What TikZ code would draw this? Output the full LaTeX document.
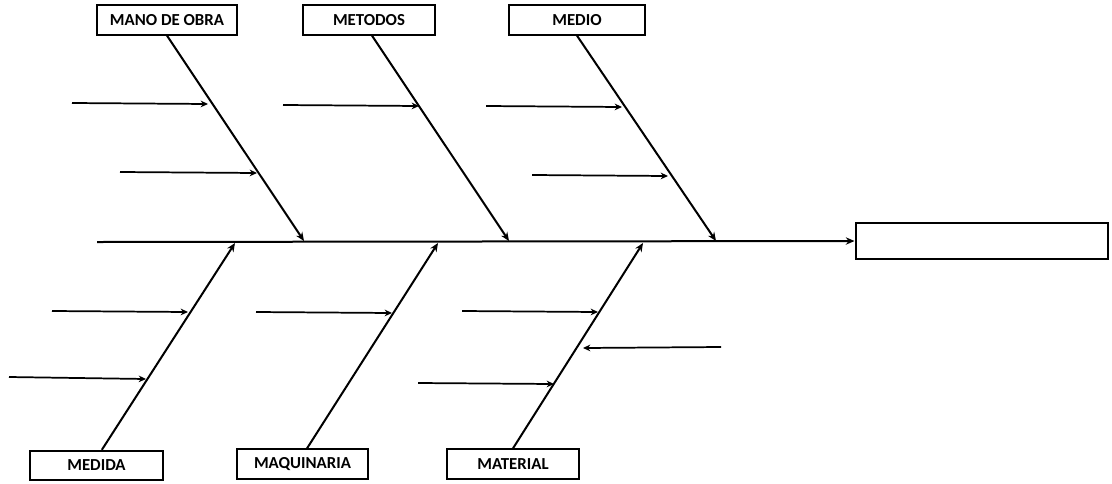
\documentclass[tikz,border=0pt]{standalone}
\usepackage{fontspec}
\setmainfont{Carlito}
\usetikzlibrary{arrows.meta}
\begin{document}
\begin{tikzpicture}[x=0.75pt,y=-0.75pt,
  cat/.style={draw,line width=1.5pt,minimum height=22pt,inner sep=0pt,font=\bfseries\fontsize{12.6}{14}\selectfont},
  bone/.style={line width=1.5pt,-{Stealth[length=6.5pt,width=5.5pt]}},
  twig/.style={line width=1.3pt,-{Stealth[length=5.5pt,width=5pt]}}]
\useasboundingbox (0,0) rectangle (1112,483);
% category boxes
\node[cat,minimum width=105pt] (mano) at (167,20) {MANO DE OBRA};
\node[cat,minimum width=99pt] (metodos) at (369,20) {METODOS};
\node[cat,minimum width=102pt] (medio) at (577,20) {MEDIO};
\node[cat,minimum width=100pt] (medida) at (96.5,465.5) {MEDIDA};
\node[cat,minimum width=98pt] (maq) at (302.5,464) {MAQUINARIA};
\node[cat,minimum width=99pt] (mat) at (513,464) {MATERIAL};
% effect box
\node[draw,line width=1.5pt,minimum width=189pt,minimum height=27pt,inner sep=0pt] (efecto) at (981.5,241) {};
% spine
\coordinate (tail) at (97,242);
\draw[bone] (tail) -- (efecto.west);
% main bones
\coordinate (s1) at (304,241);
\coordinate (s2) at (509,241);
\coordinate (s3) at (716,241);
\coordinate (s4) at (235,243);
\coordinate (s5) at (438,243);
\coordinate (s6) at (643,243);
\draw[bone] (mano.south) -- (s1);
\draw[bone] ([xshift=2.25pt]metodos.south) -- (s2);
\draw[bone] (medio.south) -- (s3);
\draw[bone] ([xshift=4pt]medida.north) -- (s4);
\draw[bone] ([xshift=3.4pt]maq.north) -- (s5);
\draw[bone] (mat.north) -- (s6);
% sub-causes
\coordinate (a1) at (72,103);  \coordinate (b1) at (208,104);
\coordinate (a2) at (120,172); \coordinate (b2) at (257,173);
\coordinate (a3) at (283,105); \coordinate (b3) at (419,106);
\coordinate (a4) at (486,106); \coordinate (b4) at (622,107);
\coordinate (a5) at (532,175); \coordinate (b5) at (668,176);
\coordinate (a6) at (52,311);  \coordinate (b6) at (188,312);
\coordinate (a7) at (9,377);   \coordinate (b7) at (146,379);
\coordinate (a8) at (256,312); \coordinate (b8) at (392,313);
\coordinate (a9) at (462,311); \coordinate (b9) at (598,312);
\coordinate (a10) at (418,383); \coordinate (b10) at (554,384);
\coordinate (a11) at (721,347); \coordinate (b11) at (583,348);
\foreach \i in {1,...,11} \draw[twig] (a\i) -- (b\i);
\end{tikzpicture}
\end{document}
